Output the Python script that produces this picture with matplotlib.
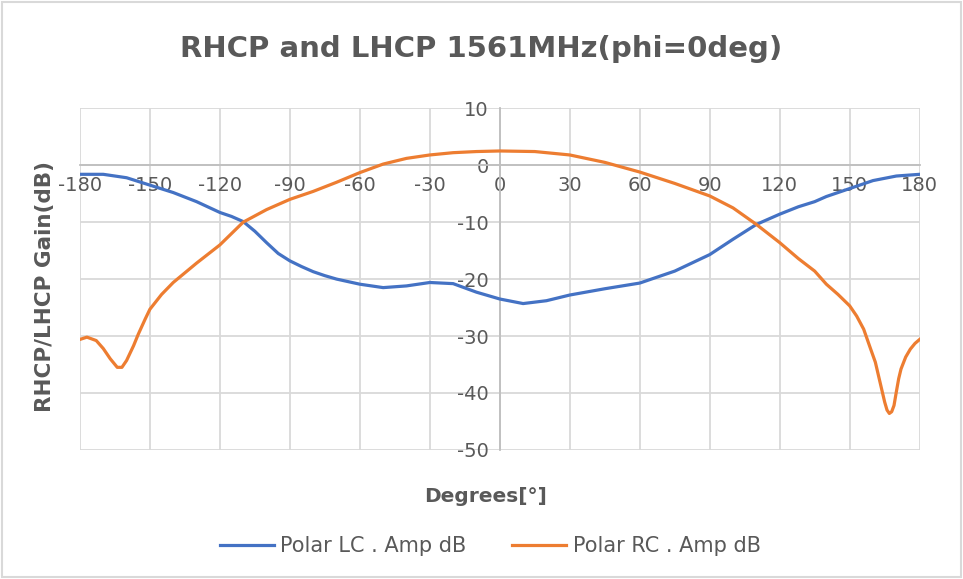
import matplotlib.pyplot as plt

plt.rcParams["axes.unicode_minus"] = False

# Значення
lc_deg = [-180, -170, -160, -150, -140, -130, -120, -115, -110, -105, -100, -95, -90, -85,
          -80, -75, -70, -60, -50, -40, -30, -20, -10, 0, 10, 20, 30, 45, 60, 75, 90,
          100, 110, 120, 128, 135, 140, 150, 160, 170, 180]
lc_db = [-1.6, -1.6, -2.2, -3.5, -4.8, -6.4, -8.3, -9.0, -9.9, -11.6, -13.6, -15.5, -16.8,
         -17.8, -18.7, -19.4, -20.0, -20.9, -21.5, -21.2, -20.6, -20.8, -22.3, -23.5, -24.3,
         -23.8, -22.8, -21.7, -20.7, -18.6, -15.7, -13.0, -10.4, -8.6, -7.3, -6.4, -5.5,
         -4.1, -2.7, -1.9, -1.6]

rc_deg = [-180, -177, -173, -170, -167, -164, -162, -160, -157, -155, -152, -150, -145,
          -140, -130, -120, -110, -100, -90, -80, -70, -60, -50, -40, -30, -20, -10, 0,
          15, 30, 45, 60, 75, 90, 100, 110, 120, 128, 135, 140, 145, 150, 153, 156, 159,
          161, 163, 165, 166, 167, 168, 169, 170, 171, 172, 174, 176, 178, 180]
rc_db = [-30.6, -30.2, -30.8, -32.2, -34.0, -35.5, -35.5, -34.3, -31.7, -29.7, -27.0,
         -25.3, -22.7, -20.6, -17.2, -14.0, -10.0, -7.8, -6.0, -4.6, -3.0, -1.3, 0.2, 1.2,
         1.8, 2.2, 2.4, 2.5, 2.4, 1.8, 0.5, -1.2, -3.2, -5.4, -7.5, -10.4, -13.6, -16.4,
         -18.6, -20.9, -22.7, -24.7, -26.5, -28.8, -32.3, -34.6, -38.1, -41.6, -43.0, -43.6,
         -43.3, -42.2, -39.8, -37.5, -35.8, -33.7, -32.3, -31.3, -30.6]

x_ticks = list(range(-180, 181, 30))
y_ticks = list(range(-50, 11, 10))

gray = "#595959"

fig = plt.figure(figsize=(9.63, 5.79), dpi=100)
ax = fig.add_axes([0.083, 0.223, 0.872, 0.59])

ax.plot(lc_deg, lc_db, color="#4472C4", lw=2.3, label="Polar LC . Amp dB", zorder=3)
ax.plot(rc_deg, rc_db, color="#ED7D31", lw=2.3, label="Polar RC . Amp dB", zorder=3)

ax.set_xlim(-180, 180)
ax.set_ylim(-50, 10)
ax.set_xticks(x_ticks)
ax.set_yticks(y_ticks)
ax.grid(True, color="#d9d9d9", lw=1.3, zorder=0)
ax.set_axisbelow(True)

# Осі перетинаються в нулі, як у Excel
ax.spines["left"].set_position(("data", 0))
ax.spines["bottom"].set_position(("data", 0))
for s in ["left", "bottom"]:
    ax.spines[s].set_color("#bfbfbf")
    ax.spines[s].set_linewidth(1.3)
for s in ["top", "right"]:
    ax.spines[s].set_visible(False)
ax.tick_params(length=0, labelsize=14, colors=gray, pad=8)

fig.text(0.5, 0.915, "RHCP and LHCP 1561MHz(phi=0deg)", ha="center", va="center",
         fontsize=21, fontweight="bold", color=gray)
fig.text(0.047, 0.505, "RHCP/LHCP Gain(dB)", ha="center", va="center", rotation=90,
         fontsize=15.5, fontweight="bold", color=gray)
fig.text(0.504, 0.143, "Degrees[°]", ha="center", va="center",
         fontsize=14.5, fontweight="bold", color=gray)

fig.legend(loc="center", bbox_to_anchor=(0.509, 0.057), ncol=2, frameon=False,
           fontsize=15, labelcolor=gray, handlelength=2.6, handletextpad=0.3,
           columnspacing=2.2)

# Рамка області діаграми
fig.patches.append(plt.Rectangle((0.002, 0.003), 0.996, 0.994, transform=fig.transFigure,
                                 fill=False, edgecolor="#d9d9d9", lw=1.5))

fig.savefig("out.png", dpi=100)
